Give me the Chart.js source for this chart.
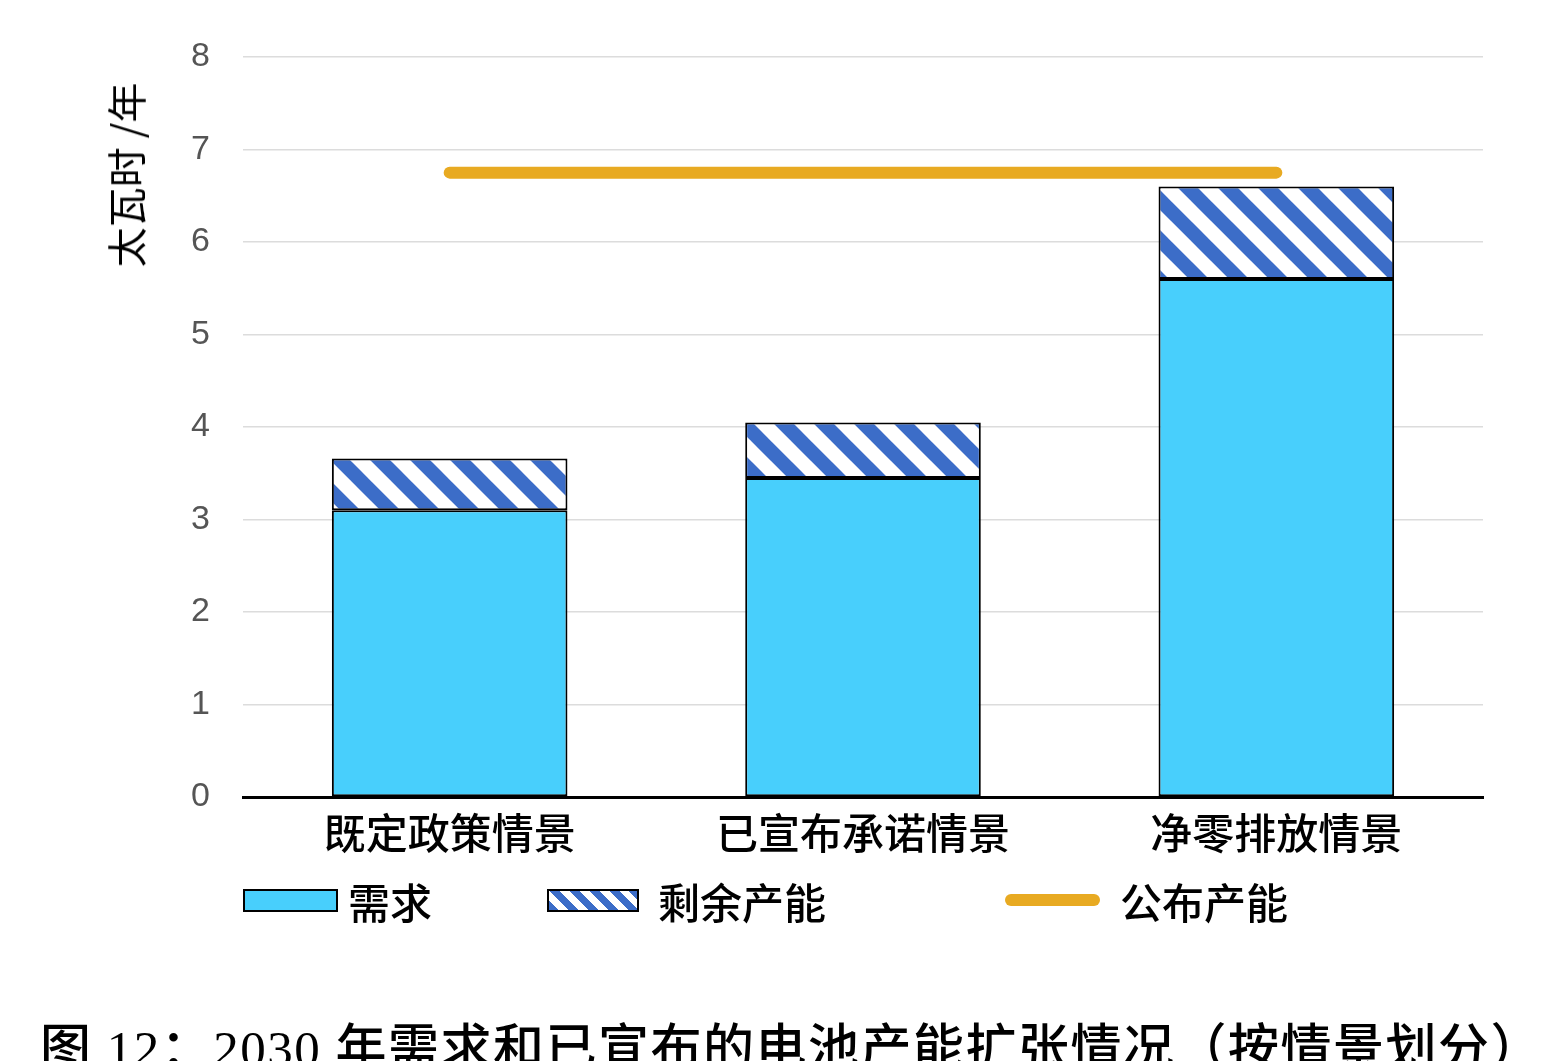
<!DOCTYPE html>
<html>
<head>
<meta charset="utf-8">
<script src="https://cdn.jsdelivr.net/npm/chart.js@4"></script>
<style>
  html, body { margin: 0; padding: 0; background: #fff; overflow: hidden; }
  body { width: 1561px; height: 1061px; position: relative; font-family: "Noto Sans CJK SC", sans-serif; }
  #wrap { position: absolute; left: 0; top: 0; width: 1561px; height: 880px; }
  .ytitle { position: absolute; left: 125px; top: 175px; transform: translate(-50%, -50%) rotate(-90deg);
    font-size: 40px; white-space: nowrap; color: #000; }
  .leg { position: absolute; top: 900px; transform: translateY(-50%); font-size: 42px; font-weight: 500; color: #000; white-space: nowrap; }
  .sw { position: absolute; box-sizing: border-box; }
  .caption { position: absolute; left: 40px; top: 1013px; font-family: "Liberation Serif", "Noto Sans CJK SC", serif;
    font-size: 51px; font-weight: normal; white-space: nowrap; line-height: 62px; color: #000; letter-spacing: 1.5px; }
  .caption .zh { font-family: "Noto Sans CJK SC", sans-serif; font-weight: 500; }
</style>
</head>
<body>
<div id="wrap"><canvas id="myChart"></canvas></div>
<div class="ytitle">太瓦时 /年</div>

<div class="sw" style="left:243px; top:889px; width:95px; height:23px; background:#48cffc; border:2px solid #000;"></div>
<div class="leg" style="left:348px;">需求</div>
<div class="sw" style="left:547px; top:889px; width:92px; height:23px; border:2px solid #000;
  background: repeating-linear-gradient(45deg, #3c6dc8 0 7px, #fff 7px 14px);"></div>
<div class="leg" style="left:658px;">剩余产能</div>
<div class="sw" style="left:1005px; top:894px; width:95px; height:12px; background:#e8aa22; border-radius:6px;"></div>
<div class="leg" style="left:1120px;">公布产能</div>

<div class="caption"><span class="zh">图</span> 12<span class="zh">：</span>2030 <span class="zh">年需求和已宣布的电池产能扩张情况（按情景划分）</span></div>

<script>
const categories = ["既定政策情景", "已宣布承诺情景", "净零排放情景"]
const demand = [3.1, 3.45, 5.6]
const surplus = [0.56, 0.6, 1.0]
const announced = [6.75, 6.75, 6.75]
const yTicks = [0, 1, 2, 3, 4, 5, 6, 7, 8]

function makeHatch() {
    const c = document.createElement('canvas')
    c.width = 40
    c.height = 40
    const g = c.getContext('2d')
    g.fillStyle = '#fff'
    g.fillRect(0, 0, 40, 40)
    g.strokeStyle = '#3c6dc8'
    g.lineWidth = 14
    for (const off of [-40, 0, 40]) {
        g.beginPath()
        g.moveTo(off - 5, -5)
        g.lineTo(off + 45, 45)
        g.stroke()
    }
    return g.createPattern(c, 'repeat')
}

const context = document.getElementById('myChart').getContext('2d')
const hatch = makeHatch()

new Chart(context, {
    type: 'bar',
    data: {
        labels: categories,
        datasets: [
            {
                label: '需求',
                data: demand,
                backgroundColor: '#48cffc',
                borderColor: '#000',
                borderWidth: 2,
                borderSkipped: false,
                stack: 'bars',
                order: 2
            },
            {
                label: '剩余产能',
                data: surplus,
                backgroundColor: hatch,
                borderColor: '#000',
                borderWidth: 2,
                borderSkipped: false,
                stack: 'bars',
                order: 2
            },
            {
                type: 'line',
                label: '公布产能',
                data: announced,
                borderColor: '#e8aa22',
                borderWidth: 12,
                borderCapStyle: 'round',
                pointRadius: 0,
                fill: false,
                stack: 'line',
                order: 1
            }
        ]
    },
    options: {
        responsive: true,
        maintainAspectRatio: false,
        animation: false,
        datasets: {
            bar: { categoryPercentage: 1, barPercentage: 0.57 }
        },
        layout: { padding: { top: 57, right: 78, left: 0, bottom: 0 } },
        plugins: {
            legend: { display: false },
            tooltip: { enabled: false }
        },
        scales: {
            x: {
                stacked: true,
                grid: { display: false, drawTicks: false },
                border: { color: '#000', width: 3 },
                ticks: {
                    padding: 11,
                    color: '#000',
                    font: { family: 'Noto Sans CJK SC', size: 42, weight: 500 }
                },
                afterFit: scale => { scale.height = 83 }
            },
            y: {
                stacked: true,
                min: 0,
                max: 8,
                afterBuildTicks: scale => { scale.ticks = yTicks.map(v => ({ value: v })) },
                grid: { color: '#dcdcdc', lineWidth: 1.5, drawTicks: false },
                border: { display: false },
                ticks: {
                    padding: 33,
                    color: '#555',
                    font: { family: 'Liberation Sans', size: 34 }
                },
                afterFit: scale => { scale.width = 243 }
            }
        }
    }
})
</script>
</body>
</html>
